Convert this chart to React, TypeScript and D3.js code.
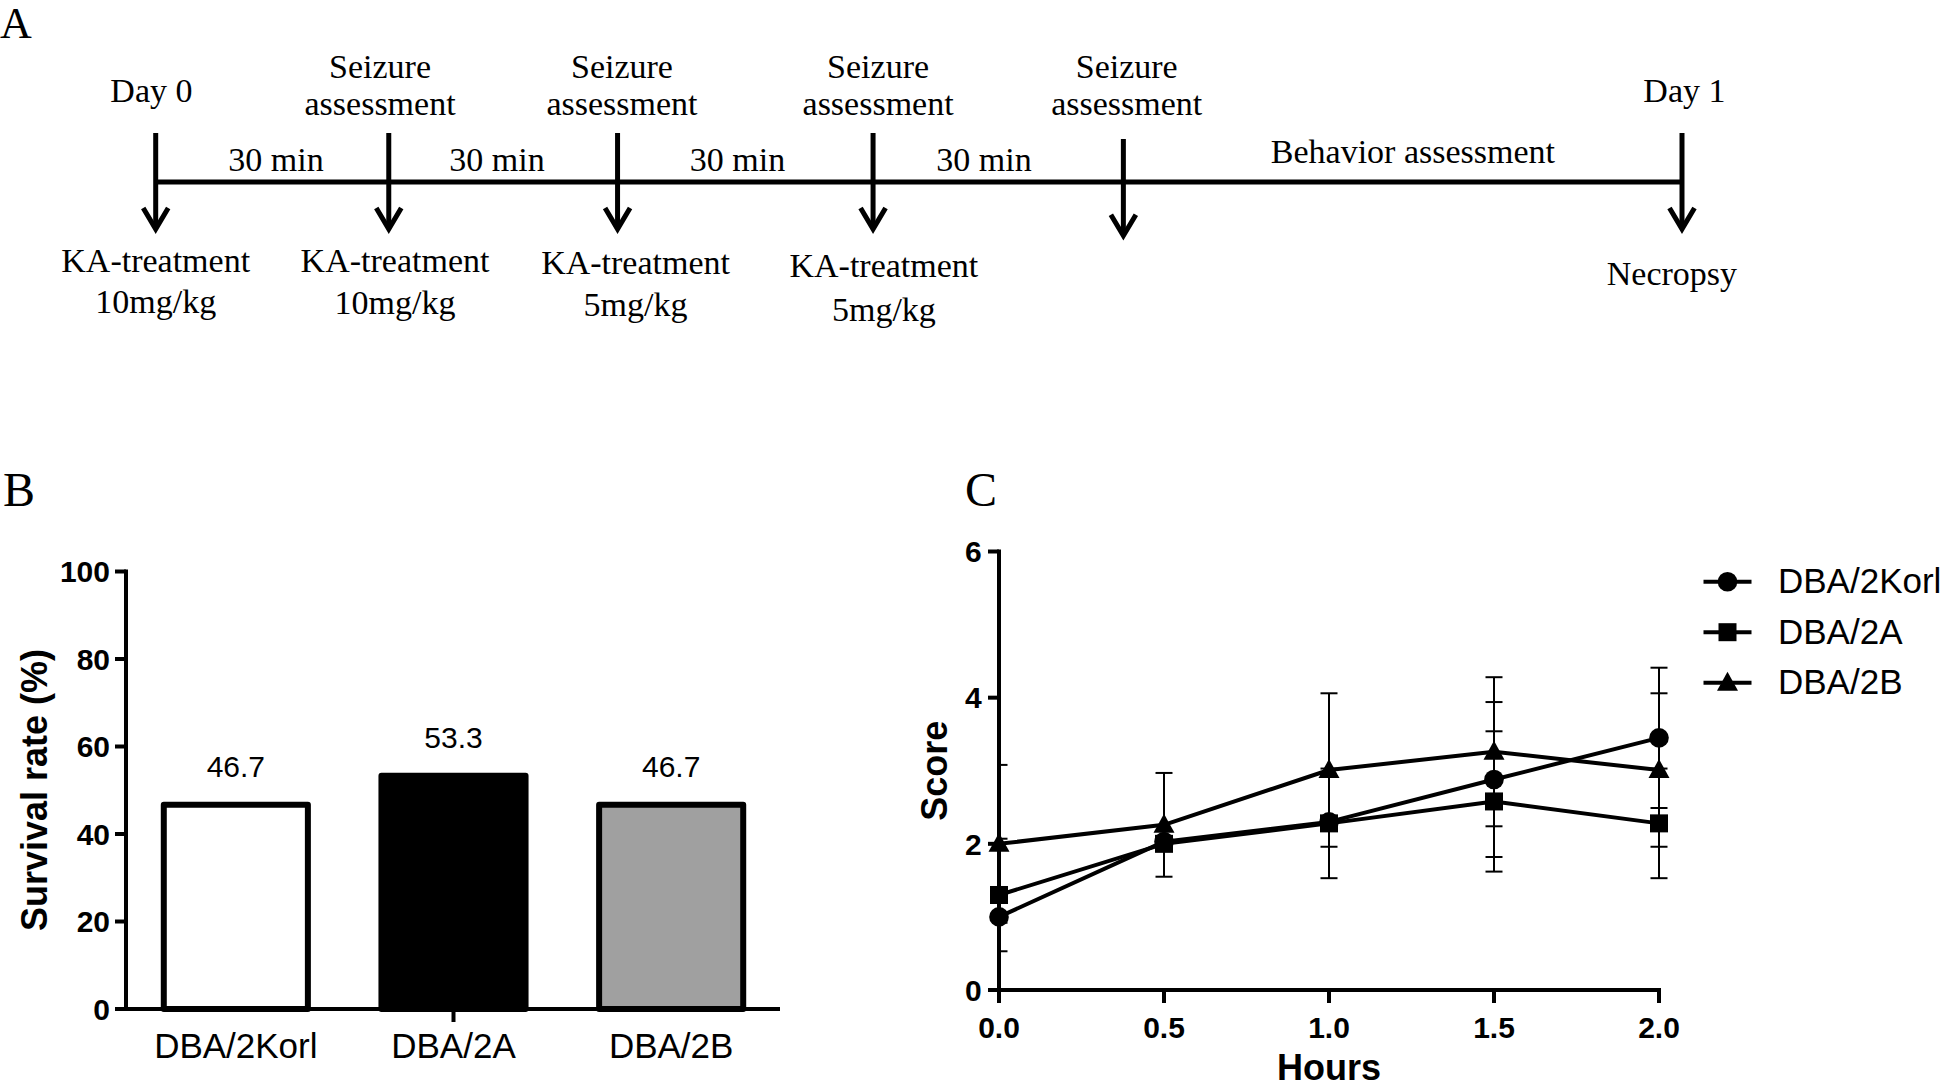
import React from 'react';
import * as d3 from 'd3';

// ---------- Panel B data ----------
const barCategories = ['DBA/2Korl', 'DBA/2A', 'DBA/2B'];
const survivalRates = [46.7, 53.3, 46.7];
const barFills = ['#ffffff', '#000000', '#a0a0a0'];
const survivalTicks = [0, 20, 40, 60, 80, 100];

// ---------- Panel C data ----------
const hours = [0, 0.5, 1, 1.5, 2];
const hourTickLabels = ['0.0', '0.5', '1.0', '1.5', '2.0'];
const scoreTicks = [0, 2, 4, 6];
const seriesNames = ['DBA/2Korl', 'DBA/2A', 'DBA/2B'];
const seriesShapes = ['circle', 'square', 'triangle'];
const scoreKorl = [1.0, 2.03, 2.3, 2.88, 3.45];
const errKorl = [0, 0, 0, 1.06, 0.96];
const scoreA = [1.3, 2.0, 2.28, 2.58, 2.28];
const errA = [0.77, 0, 0.75, 0.96, 0.75];
const scoreB = [2.0, 2.26, 3.01, 3.26, 3.01];
const errB = [1.08, 0.71, 1.05, 1.02, 1.05];
const seriesValues = [scoreKorl, scoreA, scoreB];
const seriesErrors = [errKorl, errA, errB];

// ---------- Panel A (schematic timeline, positions in % of the time line) ----------
const arrowPositions = [0, 15.27, 30.26, 47.0, 63.4, 100];
const seizureLabelPositions = [14.7, 30.55, 47.33, 63.62];
const intervalLabels = ['30 min', '30 min', '30 min', '30 min'];
const intervalPositions = [7.88, 22.36, 38.12, 54.27];
const treatmentDoses = ['10mg/kg', '10mg/kg', '5mg/kg', '5mg/kg'];
const treatmentPositions = [0, 15.68, 31.44, 47.71];

const SERIF = '"Liberation Serif", "Times New Roman", serif';
const SANS = '"Liberation Sans", Arial, Helvetica, sans-serif';

function Marker({ shape, x, y }: { shape: string; x: number; y: number }) {
  if (shape === 'circle') return <circle cx={x} cy={y} r={9.8} fill="#000" />;
  if (shape === 'square') return <rect x={x - 9} y={y - 9} width={18} height={18} fill="#000" />;
  return <path d={`M${x},${y - 11}L${x + 10.5},${y + 8}L${x - 10.5},${y + 8}Z`} fill="#000" />;
}

function Timeline() {
  const tx = d3.scaleLinear().domain([0, 100]).range([155.7, 1682]);
  const lineY = 182;
  const arrowTop = [133, 133, 133, 133, 139, 133];
  const arrowBot = [230, 230, 230, 230, 236.7, 230];
  const kaY = [272, 272, 274, 277];
  const doseY = [313, 314, 316, 321];
  const fs = 34;
  return (
    <g fontFamily={SERIF} fontSize={fs} fill="#000">
      <line x1={tx(0)} x2={tx(100)} y1={lineY} y2={lineY} stroke="#000" strokeWidth={5} />
      {arrowPositions.map((p, i) => {
        const x = tx(p);
        const b = arrowBot[i];
        return (
          <g key={i} stroke="#000" strokeWidth={5} fill="none">
            <line x1={x} x2={x} y1={arrowTop[i]} y2={b - 2} />
            <path d={`M${x - 12.5},${b - 22}L${x},${b - 1}L${x + 12.5},${b - 22}`} strokeLinejoin="miter" />
          </g>
        );
      })}
      <text x={tx(-0.28)} y={101.7} textAnchor="middle">Day 0</text>
      <text x={tx(100.16)} y={101.7} textAnchor="middle">Day 1</text>
      {seizureLabelPositions.map((p, i) => (
        <g key={i}>
          <text x={tx(p)} y={77.5} textAnchor="middle">Seizure</text>
          <text x={tx(p)} y={115} textAnchor="middle">assessment</text>
        </g>
      ))}
      {intervalLabels.map((t, i) => (
        <text key={i} x={tx(intervalPositions[i])} y={170.7} textAnchor="middle">{t}</text>
      ))}
      <text x={tx(82.37)} y={163.3} textAnchor="middle">Behavior assessment</text>
      {treatmentDoses.map((d, i) => (
        <g key={i}>
          <text x={tx(treatmentPositions[i])} y={kaY[i]} textAnchor="middle">KA-treatment</text>
          <text x={tx(treatmentPositions[i])} y={doseY[i]} textAnchor="middle">{d}</text>
        </g>
      ))}
      <text x={tx(99.34)} y={285} textAnchor="middle">Necropsy</text>
    </g>
  );
}

function BarPanel() {
  const y = d3.scaleLinear().domain([0, 100]).range([1009, 571.5]);
  const x = d3.scalePoint<string>().domain(barCategories).range([127, 780]).padding(0.5);
  const bw = x.step() * 0.662;
  const axisX = 126;
  return (
    <g fill="#000">
      {barCategories.map((c, i) => {
        const cx = x(c) as number;
        return (
          <g key={c}>
            <rect x={cx - bw / 2} y={y(survivalRates[i])} width={bw} height={y(0) - y(survivalRates[i])}
              fill={barFills[i]} stroke="#000" strokeWidth={6} strokeLinejoin="round" />
            <text x={cx} y={y(survivalRates[i]) - 28} textAnchor="middle" fontFamily={SANS} fontSize={30}>
              {survivalRates[i].toFixed(1)}
            </text>
            <text x={cx} y={1058.3} textAnchor="middle" fontFamily={SANS} fontSize={35}>{c}</text>
          </g>
        );
      })}
      <g stroke="#000" strokeWidth={4}>
        <line x1={axisX} x2={axisX} y1={y(100) - 2} y2={y(0)} />
        <line x1={115} x2={780} y1={y(0)} y2={y(0)} />
        {survivalTicks.map(t => (
          <line key={t} x1={115} x2={axisX} y1={y(t)} y2={y(t)} />
        ))}
        <line x1={x('DBA/2A') as number} x2={x('DBA/2A') as number} y1={y(0)} y2={y(0) + 13} />
      </g>
      {survivalTicks.map(t => (
        <text key={t} x={110} y={y(t) + 10.7} textAnchor="end" fontFamily={SANS} fontWeight="bold" fontSize={30}>{t}</text>
      ))}
      <text transform="translate(46.5,790) rotate(-90)" textAnchor="middle" fontFamily={SANS} fontWeight="bold" fontSize={36}>
        Survival rate (%)
      </text>
    </g>
  );
}

function LinePanel() {
  const x = d3.scaleLinear().domain([0, 2]).range([999, 1659]);
  const y = d3.scaleLinear().domain([0, 6]).range([990, 551.5]);
  const line = d3.line<number>().x((_, i) => x(hours[i])).y(v => y(v));
  const capW = 8.5;
  return (
    <g fill="#000">
      {/* error bars */}
      <g stroke="#000" strokeWidth={2}>
        {seriesValues.map((vals, s) =>
          vals.map((v, i) => {
            const e = seriesErrors[s][i];
            if (!e) return null;
            const cx = x(hours[i]);
            const left = Math.max(cx - capW, x(0));
            return (
              <g key={`${s}-${i}`}>
                <line x1={cx} x2={cx} y1={y(v - e)} y2={y(v + e)} />
                <line x1={left} x2={cx + capW} y1={y(v + e)} y2={y(v + e)} />
                <line x1={left} x2={cx + capW} y1={y(v - e)} y2={y(v - e)} />
              </g>
            );
          })
        )}
      </g>
      {seriesValues.map((vals, s) => (
        <path key={s} d={line(vals) || ''} fill="none" stroke="#000" strokeWidth={4} strokeLinejoin="round" />
      ))}
      {seriesValues.map((vals, s) =>
        vals.map((v, i) => <Marker key={`${s}-${i}`} shape={seriesShapes[s]} x={x(hours[i])} y={y(v)} />)
      )}
      {/* axes */}
      <g stroke="#000" strokeWidth={4}>
        <line x1={x(0)} x2={x(0)} y1={y(6) - 2} y2={y(0)} />
        <line x1={988} x2={x(2) + 2} y1={y(0)} y2={y(0)} />
        {scoreTicks.map(t => (
          <line key={t} x1={988} x2={x(0)} y1={y(t)} y2={y(t)} />
        ))}
        {hours.map(h => (
          <line key={h} x1={x(h)} x2={x(h)} y1={y(0)} y2={y(0) + 13} />
        ))}
      </g>
      {scoreTicks.map(t => (
        <text key={t} x={981.7} y={y(t) + 10.7} textAnchor="end" fontFamily={SANS} fontWeight="bold" fontSize={30}>{t}</text>
      ))}
      {hours.map((h, i) => (
        <text key={h} x={x(h)} y={1038.3} textAnchor="middle" fontFamily={SANS} fontWeight="bold" fontSize={30}>{hourTickLabels[i]}</text>
      ))}
      <text x={(x(0) + x(2)) / 2} y={1080} textAnchor="middle" fontFamily={SANS} fontWeight="bold" fontSize={36}>Hours</text>
      <text transform={`translate(946.5,${(y(0) + y(6)) / 2}) rotate(-90)`} textAnchor="middle" fontFamily={SANS} fontWeight="bold" fontSize={36}>
        Score
      </text>
      {/* legend */}
      {seriesNames.map((n, i) => {
        const ly = 581.7 + i * 50.5;
        return (
          <g key={n}>
            <line x1={1703.5} x2={1751.5} y1={ly} y2={ly} stroke="#000" strokeWidth={4} />
            <Marker shape={seriesShapes[i]} x={1727.5} y={ly} />
            <text x={1778} y={ly + 11.6} fontFamily={SANS} fontSize={35}>{n}</text>
          </g>
        );
      })}
    </g>
  );
}

export default function App() {
  return (
    <svg width={1946} height={1088} viewBox="0 0 1946 1088"
      style={{ position: 'absolute', left: 0, top: 0, background: '#fff' }}>
      <rect width={1946} height={1088} fill="#fff" />
      <text x={0} y={38} fontFamily={SERIF} fontSize={44}>A</text>
      <text x={3} y={506} fontFamily={SERIF} fontSize={48}>B</text>
      <text x={965} y={506} fontFamily={SERIF} fontSize={48}>C</text>
      <Timeline />
      <BarPanel />
      <LinePanel />
    </svg>
  );
}
